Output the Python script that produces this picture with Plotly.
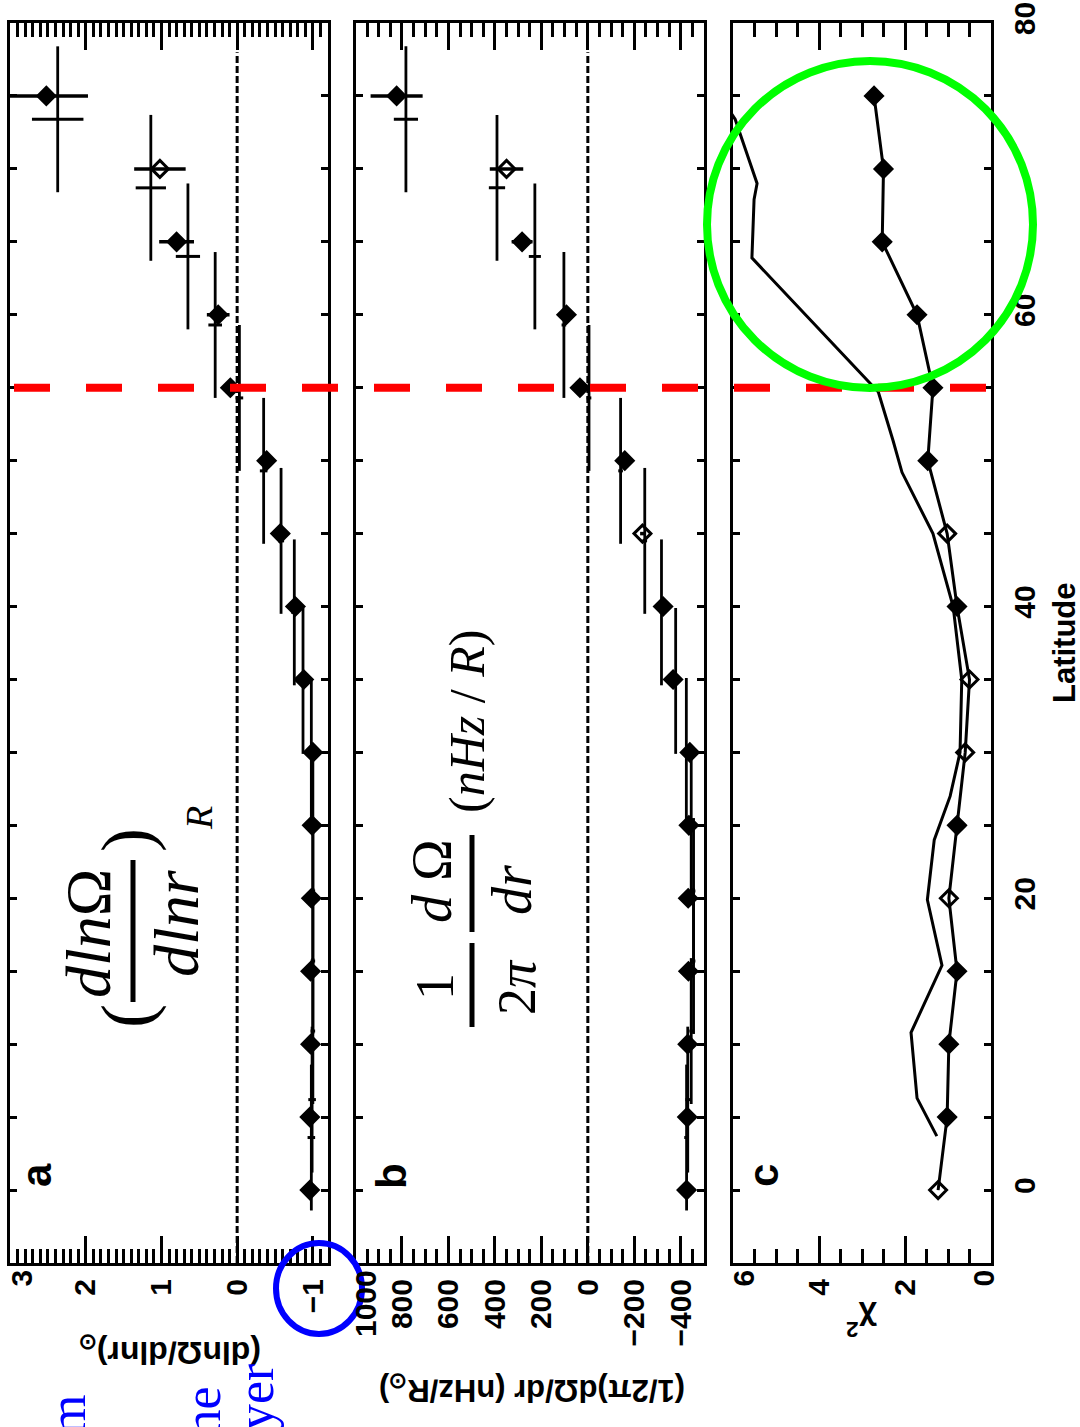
import plotly.graph_objects as go

W, H = 1080, 1427

# ---------------- data ----------------
LAT_A = [0, 5, 10, 15, 20, 25, 30, 35, 40, 45, 50, 55, 60, 65, 70, 75]
DLNR_A = [-0.96, -0.96, -0.97, -0.97, -0.98, -0.99, -1.00, -0.88, -0.77, -0.57,
          -0.39, 0.09, 0.25, 0.80, 1.02, 2.52]
DLNR_A_ERR = [0.03, 0.03, 0.03, 0.03, 0.03, 0.03, 0.03, 0.04, 0.05, 0.05,
              0.05, 0.06, 0.15, 0.23, 0.34, 0.55]

LAT_B = [3.6, 6.2, 10.9, 15.7, 20.5, 25.3, 30.1, 34.9, 39.6, 44.5, 49.3,
         54.3, 59.3, 64.0, 68.7, 73.4]
LAT_B_HALFWIDTH = 5.0
DLNR_B = [-0.98, -0.99, -1.00, -1.00, -1.00, -1.00, -0.98, -0.87, -0.755,
          -0.58, -0.35, -0.03, 0.29, 0.65, 1.14, 2.37]
DLNR_B_ERR = [0.05, 0.05, 0.03, 0.03, 0.03, 0.03, 0.03, 0.03, 0.04, 0.04,
              0.05, 0.05, 0.09, 0.16, 0.20, 0.34]

NHZ_A = [-425, -428, -430, -433, -432, -435, -439, -367, -324, -235, -159,
         34, 92, 283, 350, 823]
NHZ_A_ERR = [8, 8, 8, 8, 8, 8, 8, 10, 10, 10, 10, 12, 25, 45, 72, 112]
NHZ_B = [-425, -430, -445, -455, -455, -445, -424, -378, -317, -245, -141,
         -5, 103, 228, 391, 783]
NHZ_B_ERR = [10, 10, 8, 8, 8, 8, 8, 8, 8, 10, 10, 10, 10, 26, 35, 52]

CHI_A = [1.23, 1.02, 0.98, 0.79, 0.98, 0.79, 0.60, 0.50, 0.79, 1.02, 1.47,
         1.35, 1.72, 2.53, 2.50, 2.72]
LAT_C2 = [3.7, 6.3, 10.8, 15.4, 19.9, 24.0, 27.0, 30.0, 35.0, 40.0, 45.0,
          49.2, 51.4, 54.7, 63.9, 67.9, 69.0, 73.4, 75.0]
CHI_C2 = [1.26, 1.72, 1.86, 1.14, 1.48, 1.32, 0.95, 0.72, 0.68, 0.88, 1.35,
          2.07, 2.28, 2.62, 5.56, 5.51, 5.44, 5.95, 6.30]

OPEN_A = [70]
OPEN_B = [45, 70]
OPEN_C = [0, 20, 30, 35, 45]
DIVIDE_LAT = 55
ZERO_LINE_TOP = 78

LAT_TICKS = [0, 20, 40, 60, 80]
A_TICKS = [3, 2, 1, 0, -1]
B_TICKS = [1000, 800, 600, 400, 200, 0, -200, -400]
C_TICKS = [6, 4, 2, 0]


def px(x):
    return x / W


def py(y):
    return 1 - y / H


def symbols(lats, open_set):
    return ["diamond-open" if l in open_set else "diamond" for l in lats]


def fmt(v):
    return str(v).replace("-", "\u2212")


fig = go.Figure()

# ---- panel a ----
fig.add_trace(go.Scatter(
    x=DLNR_B, y=LAT_B, mode="markers", xaxis="x", yaxis="y",
    marker=dict(size=2, color="rgba(0,0,0,0)"),
    error_y=dict(type="constant", value=LAT_B_HALFWIDTH, width=0, thickness=2.8, color="black"),
    error_x=dict(type="data", array=DLNR_B_ERR, width=0, thickness=3, color="black"),
    showlegend=False))
fig.add_trace(go.Scatter(
    x=DLNR_A, y=LAT_A, mode="markers", xaxis="x", yaxis="y",
    marker=dict(symbol=symbols(LAT_A, OPEN_A), size=13, color="black",
                line=dict(width=3, color="black")),
    error_x=dict(type="data", array=DLNR_A_ERR, width=0, thickness=3.5, color="black"),
    showlegend=False))

# ---- panel b ----
fig.add_trace(go.Scatter(
    x=NHZ_B, y=LAT_B, mode="markers", xaxis="x2", yaxis="y2",
    marker=dict(size=2, color="rgba(0,0,0,0)"),
    error_y=dict(type="constant", value=LAT_B_HALFWIDTH, width=0, thickness=2.8, color="black"),
    error_x=dict(type="data", array=NHZ_B_ERR, width=0, thickness=3, color="black"),
    showlegend=False))
fig.add_trace(go.Scatter(
    x=NHZ_A, y=LAT_A, mode="markers", xaxis="x2", yaxis="y2",
    marker=dict(symbol=symbols(LAT_A, OPEN_B), size=13, color="black",
                line=dict(width=3, color="black")),
    error_x=dict(type="data", array=NHZ_A_ERR, width=0, thickness=3.5, color="black"),
    showlegend=False))

# ---- panel c ----
fig.add_trace(go.Scatter(
    x=CHI_C2, y=LAT_C2, mode="lines", xaxis="x3", yaxis="y3",
    line=dict(color="black", width=3), showlegend=False))
fig.add_trace(go.Scatter(
    x=CHI_A, y=LAT_A, mode="lines+markers", xaxis="x3", yaxis="y3",
    line=dict(color="black", width=3),
    marker=dict(symbol=symbols(LAT_A, OPEN_C), size=13, color="black",
                line=dict(width=3, color="black")),
    showlegend=False))

YDOM = [py(1263), py(23)]
common = dict(showline=True, linewidth=3, linecolor="black", mirror="allticks",
              ticks="inside", tickwidth=3, tickcolor="black", showgrid=False,
              zeroline=False, automargin=False)
TICKFONT = dict(family="Liberation Sans", size=30, color="black", weight="bold")
LABEL_STANDOFF = 1

xcommon = dict(common, ticklen=27, tickangle=-90, tickfont=TICKFONT,
               ticklabelstandoff=LABEL_STANDOFF, ticklabeloverflow="allow")

# edge labels are nudged inward (as in the reference) and drawn as annotations
EDGE = {"x": {3: 11}, "x2": {1000: 10}, "x3": {6: 10, 0: -8}}


def ticktexts(vals, axis):
    return ["" if v in EDGE[axis] else fmt(v) for v in vals]


fig.update_layout(
    xaxis=dict(xcommon, domain=[px(10), px(328)], range=[3, -1.2], anchor="y",
               tickvals=A_TICKS, ticktext=ticktexts(A_TICKS, "x"),
               minor=dict(dtick=0.1, ticklen=14, tickwidth=3, ticks="inside", tickcolor="black")),
    xaxis2=dict(xcommon, domain=[px(355.5), px(704)], range=[1000, -500], anchor="y2",
                tickvals=B_TICKS, ticktext=ticktexts(B_TICKS, "x2"),
                minor=dict(dtick=50, ticklen=14, tickwidth=3, ticks="inside", tickcolor="black")),
    xaxis3=dict(xcommon, domain=[px(733), px(991)], range=[6, 0], anchor="y3",
                tickvals=C_TICKS, ticktext=ticktexts(C_TICKS, "x3"),
                minor=dict(dtick=0.5, ticklen=14, tickwidth=3, ticks="inside", tickcolor="black")),
    yaxis=dict(common, domain=YDOM, range=[-5, 80], anchor="x", ticklen=7,
               tickvals=LAT_TICKS, showticklabels=False,
               minor=dict(dtick=5, ticklen=7, tickwidth=2.5, ticks="inside", tickcolor="black")),
    yaxis2=dict(common, domain=YDOM, range=[-5, 80], anchor="x2", matches="y", ticklen=7,
                tickvals=LAT_TICKS, showticklabels=False,
                minor=dict(dtick=5, ticklen=7, tickwidth=2.5, ticks="inside", tickcolor="black")),
    yaxis3=dict(common, domain=YDOM, range=[-5, 80], anchor="x3", matches="y", ticklen=7,
                side="right", tickvals=LAT_TICKS, tickangle=-90, tickfont=TICKFONT,
                ticklabelstandoff=5, ticklabeloverflow="allow",
                minor=dict(dtick=5, ticklen=7, tickwidth=2.5, ticks="inside", tickcolor="black")),
    width=W, height=H, margin=dict(l=0, r=0, t=0, b=0, autoexpand=False),
    paper_bgcolor="white", plot_bgcolor="white", showlegend=False,
)

shapes = []
# dashed zero lines
for xr in ["x", "x2"]:
    shapes.append(dict(type="line", xref=xr, yref="y", x0=0, x1=0, y0=-5, y1=ZERO_LINE_TOP,
                       line=dict(color="black", width=3, dash="7px,3px"), layer="below"))
# fraction bars
shapes.append(dict(type="line", xref="paper", yref="paper", x0=px(133), x1=px(133),
                   y0=py(860), y1=py(1002), line=dict(color="black", width=5)))
shapes.append(dict(type="line", xref="paper", yref="paper", x0=px(472), x1=px(472),
                   y0=py(943), y1=py(1027), line=dict(color="black", width=5)))
shapes.append(dict(type="line", xref="paper", yref="paper", x0=px(472), x1=px(472),
                   y0=py(835), y1=py(932), line=dict(color="black", width=5)))
# red dashed divider
shapes.append(dict(type="line", xref="paper", yref="y", x0=px(14), x1=px(986),
                   y0=DIVIDE_LAT, y1=DIVIDE_LAT,
                   line=dict(color="#ff0000", width=8, dash="36px,36px")))
# blue circle
shapes.append(dict(type="circle", xref="paper", yref="paper", x0=px(276), x1=px(362),
                   y0=py(1334), y1=py(1243), line=dict(color="#0000ff", width=6)))
# green circle
shapes.append(dict(type="circle", xref="paper", yref="paper", x0=px(707), x1=px(1033),
                   y0=py(388), y1=py(61), line=dict(color="#00ff00", width=8)))
fig.update_layout(shapes=shapes)

anns = []


def ann(text, x, y, size, angle=-90, family="Liberation Serif", color="black",
        weight="normal", xanchor="center", yanchor="middle"):
    anns.append(dict(text=text, x=px(x), y=py(y), xref="paper", yref="paper",
                     showarrow=False, textangle=angle, xanchor=xanchor, yanchor=yanchor,
                     font=dict(family=family, size=size, color=color, weight=weight)))


# edge tick labels (value axes), placed by the axis scale with a small nudge
for axis, d in EDGE.items():
    for v, shift in d.items():
        anns.append(dict(text=fmt(v), x=v, xref=axis, y=py(1263), yref="paper",
                         xshift=shift, yshift=-LABEL_STANDOFF - 4,
                         showarrow=False, textangle=-90, xanchor="center", yanchor="top",
                         font=TICKFONT))

SANS = "Liberation Sans"
# panel letters
ann("a", 36, 1175, 42, family=SANS, weight="bold")
ann("b", 391, 1176, 42, family=SANS, weight="bold")
ann("c", 763, 1176, 42, family=SANS, weight="bold")
# axis titles (upside-down)
ann("(dlnΩ/dlnr)<sub>⊙</sub>", 170, 1351, 32, angle=180, family=SANS, weight="bold")
ann("(1/2π)dΩ/dr (nHz/R<sub>⊙</sub>)", 532, 1388, 31, angle=180, family=SANS, weight="bold")
ann("χ<sup>2</sup>", 862, 1322, 32, angle=180, family=SANS, weight="bold")
ann("Latitude", 1064, 643, 31, family=SANS, weight="bold")

# math in panel a
ann("<i>dln</i>Ω", 88, 934, 64)
ann("<i>dlnr</i>", 176, 923, 64)
ann("(", 127, 1016, 72)
ann(")", 127, 840, 72)
ann("<i>R</i>", 199, 818, 38)
# math in panel b
ann("1", 435, 987, 54)
ann("2<i>π</i>", 517, 987, 54)
ann("<i>d</i> Ω", 432, 881, 56)
ann("<i>dr</i>", 512, 890, 56)
ann("(<i>nHz</i> / <i>R</i>)", 467, 722, 50)

# blue text fragments at the bottom edge
ann("m", 67, 1393, 52, color="#0000ff", yanchor="top")
ann("ne", 202, 1385, 52, color="#0000ff", yanchor="top")
ann("yer", 255, 1362, 52, color="#0000ff", yanchor="top")

fig.update_layout(annotations=anns)
fig.write_html("out.html",
               config={"displayModeBar": False},
               post_script="document.body.style.margin='0px';"
                           "document.body.style.overflow='hidden';")
